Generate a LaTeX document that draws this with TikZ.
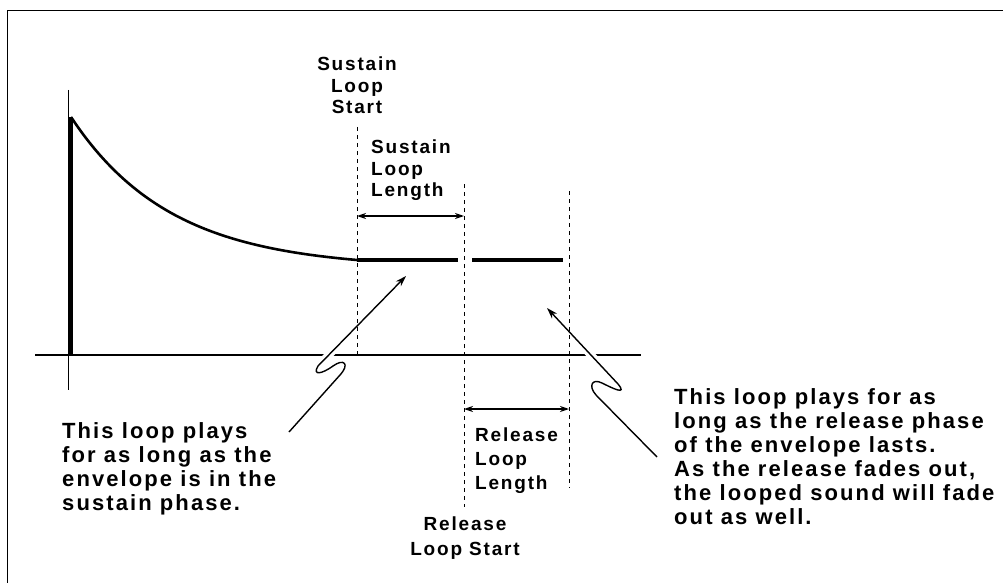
\documentclass[tikz,border=0pt]{standalone}
\usepackage{fontspec}
\newfontfamily\labelfont[LetterSpace=9.5]{Liberation Sans}
\usetikzlibrary{arrows.meta}

\tikzset{
  lbl/.style={inner sep=0pt, align=center, font=\labelfont\bfseries\fontsize{19}{21.5}\selectfont},
  note/.style={inner sep=0pt, align=left, font=\labelfont\bfseries\fontsize{22}{24}\selectfont},
  guide/.style={dash pattern=on 4pt off 4pt, line width=0.9pt},
  span/.style={{Stealth[length=9pt,width=6pt]}-{Stealth[length=9pt,width=6pt]}, line width=1.3pt},
  pointer/.style={-{Stealth[length=11pt,width=7pt]}, line width=1.4pt,
    preaction={draw=white, line width=8pt}}
}

\begin{document}
\begin{tikzpicture}[x=1pt,y=-1pt]
\useasboundingbox (0,0) rectangle (1003,583);
% frame
\draw[line width=1.5pt] (7.5,583) -- (7.5,10.5) -- (1003,10.5);
% axes
\draw[line width=2pt] (35,355) -- (641,355);
\draw[line width=1.2pt] (68.5,90) -- (68.5,390);

% pointers with a break
\coordinate (sustip) at (406,276);
\coordinate (susfoot) at (289,432);
\coordinate (reltip) at (547,308);
\coordinate (relfoot) at (657,457);
\draw[pointer] (susfoot) -- (340,375) .. controls (350,364) and (344,358) .. (333,366)
  .. controls (322,374) and (312,376) .. (318,366) -- (sustip);
\draw[pointer] (relfoot) -- (596,395) .. controls (588,386) and (592,378) .. (602,383)
  .. controls (612,388) and (628,396) .. (618,384) -- (reltip);

% loop points
\coordinate (susstart) at (357,127);
\coordinate (susend) at (464,184);
\coordinate (relend) at (569,191);
\draw[guide] (susstart) -- (357,355);
\draw[guide] (susend) -- (464,507);
\draw[guide] (relend) -- (569,488);
\draw[span] (357,216) -- (464,216);
\draw[span] (464,409) -- (569,409);

% envelope
\draw[line width=4.5pt] (70.5,117) -- (70.5,355);
\draw[line width=2.6pt, domain=71:357, samples=80]
  plot (\x, {117+143*(1-exp(-(\x-71)/100))/(1-exp(-2.86))});
\draw[line width=3.5pt] (357,260) -- (458,260);
\draw[line width=3.5pt] (472,260) -- (563,260);

% labels
\node[lbl, anchor=north] (sls) at (357,57) {Sustain\\Loop\\Start};
\node[lbl, align=left, anchor=north west] (sll) at (371,140) {Sustain\\Loop\\Length};
\node[lbl, align=left, anchor=north west, font=\labelfont\bfseries\fontsize{19}{24}\selectfont]
  (rll) at (475,428) {Release\\Loop\\Length};
\node[lbl, anchor=north, font=\labelfont\bfseries\fontsize{19}{25}\selectfont]
  (rls) at (465,517) {Release\\Loop Start};
\node[note, anchor=north west] (susnote) at (62,422)
  {This loop plays\\for as long as the\\envelope is in the\\sustain phase.};
\node[note, anchor=north west] (relnote) at (674,388)
  {This loop plays for as\\long as the release phase\\of the envelope lasts.\\As the release fades out,\\the looped sound will fade\\out as well.};
\end{tikzpicture}
\end{document}
